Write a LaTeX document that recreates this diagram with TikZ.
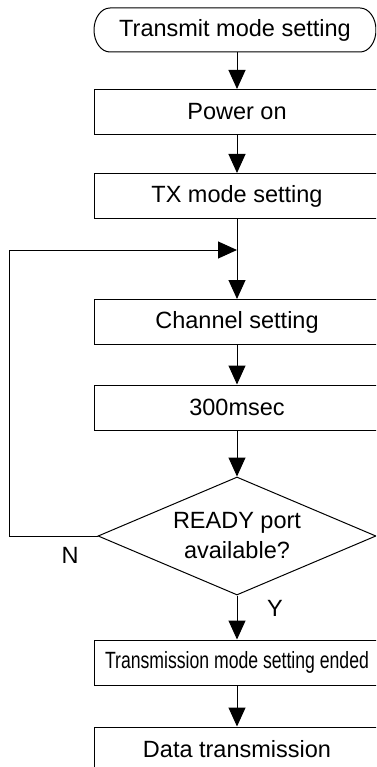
\documentclass[tikz,border=0pt]{standalone}
\usepackage{fontspec}
\setmainfont{Liberation Sans}
\usetikzlibrary{arrows.meta,shapes.geometric}
\begin{document}
\begin{tikzpicture}[x=1pt,y=1pt,
  every node/.style={font=\fontsize{23.5}{30}\selectfont, inner sep=0pt},
  stepbox/.style={draw, line width=1pt, minimum width=286pt, minimum height=45pt},
  flow/.style={line width=1pt, -{Triangle[length=19pt,width=17pt]}},
  plain/.style={line width=1pt}]
\useasboundingbox (0,0) rectangle (376,-767);
\clip (0,0) rectangle (376,-767);

% start terminal
\node (start) at (235,-30) {Transmit mode setting};
\draw[plain] (110,-8) -- (360,-8)
  arc[start angle=90,end angle=-90,x radius=16,y radius=22]
  -- (110,-52)
  arc[start angle=270,end angle=90,x radius=16,y radius=22] -- cycle;
\coordinate (startb) at (237,-52);

% process steps
\node[stepbox] (pwr) at (237,-112) {Power on};
\node[stepbox] (tx) at (237,-196) {TX mode setting};
\node[stepbox] (ch) at (237,-322) {Channel setting};
\node[stepbox] (wait) at (237,-407.5) {300msec};
\node[draw, line width=1pt, shape=diamond, aspect=2.36,
      minimum width=278pt, minimum height=118pt, align=center]
      (dec) at (237,-536) {READY port\\available?};
\node[stepbox] (done) at (237,-662.5)
  {\scalebox{0.75}[1]{Transmission mode setting ended}};
\node[stepbox] (data) at (237,-749.5) {Data transmission};

% branch labels
\node (nlab) at (70,-555) {N};
\node (ylab) at (275,-608) {Y};

% retry loop corners
\coordinate (lb) at (9,-536);
\coordinate (lt) at (9,-250);
\coordinate (join) at (237,-250);

% connectors
\draw[flow] (startb) -- (pwr.north);
\draw[flow] (pwr) -- (tx);
\draw[flow] (tx) -- (ch);
\draw[flow] (ch) -- (wait);
\draw[flow] (wait) -- (dec.north);
\draw[flow] (dec.south) -- (done.north);
\draw[flow] (done) -- (data);
\draw[flow] (dec.west) -- (lb) -- (lt) -- (join);
\end{tikzpicture}
\end{document}
